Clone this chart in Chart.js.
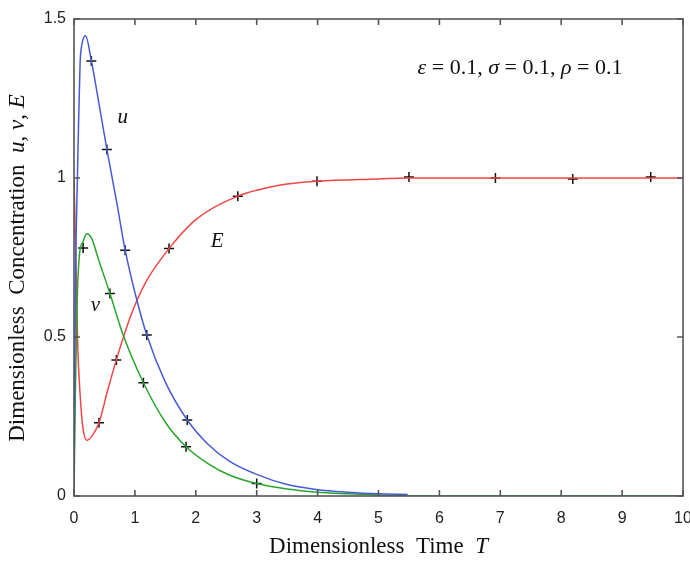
<!DOCTYPE html>
<html>
<head>
<meta charset="utf-8">
<style>
  html, body { margin: 0; padding: 0; background: #fff; }
  #wrap { width: 690px; height: 562px; }
</style>
<script src="https://cdn.jsdelivr.net/npm/chart.js@4.4.1/dist/chart.umd.min.js"></script>
</head>
<body>
<div id="wrap"><canvas id="concChart" width="690" height="562"></canvas></div>
<script>
// time points and values
var timeU = [0, 0.015, 0.03, 0.05, 0.07, 0.1, 0.13, 0.19, 0.285, 0.4, 0.54, 0.7, 0.84, 1.0, 1.195, 1.5, 1.86, 2.2, 2.55, 3.0, 3.5, 4.0, 4.5, 5.0, 5.48];
var valU = [0, 0.45, 0.75, 0.95, 1.13, 1.36, 1.42, 1.447, 1.368, 1.245, 1.09, 0.925, 0.773, 0.64, 0.506, 0.358, 0.239, 0.163, 0.11, 0.068, 0.036, 0.02, 0.012, 0.007, 0.005];

var timeV = [0, 0.02, 0.05, 0.09, 0.15, 0.21, 0.29, 0.4, 0.59, 0.8, 1.14, 1.5, 1.84, 2.2, 2.55, 3.0, 3.5, 4.0, 4.5, 5.0, 5.5, 10];
var valV = [0, 0.3, 0.6, 0.76, 0.8, 0.825, 0.81, 0.745, 0.637, 0.51, 0.356, 0.232, 0.155, 0.102, 0.066, 0.039, 0.022, 0.012, 0.007, 0.003, 0, 0];

var timeE = [0, 0.03, 0.06, 0.1, 0.15, 0.21, 0.3, 0.41, 0.55, 0.696, 0.9, 1.04, 1.2, 1.56, 2.0, 2.69, 3.5, 3.99, 5.0, 5.5, 10];
var valE = [1.0, 0.75, 0.48, 0.32, 0.21, 0.175, 0.19, 0.23, 0.33, 0.428, 0.55, 0.618, 0.68, 0.778, 0.869, 0.943, 0.981, 0.99, 0.997, 1.0, 1.0];

// "+" markers sitting on the curves
var markT = [0.285, 0.54, 0.84, 1.195, 1.86, 0.15, 0.59, 1.14, 1.84, 3.0, 0.41, 0.696, 1.56, 2.69, 3.99, 5.5, 6.92, 8.19, 9.47];
var markVal = [1.368, 1.09, 0.773, 0.506, 0.239, 0.78, 0.637, 0.356, 0.155, 0.039, 0.23, 0.428, 0.778, 0.943, 0.99, 1.003, 1.0, 0.997, 1.003];

var xTicks = [0, 1, 2, 3, 4, 5, 6, 7, 8, 9, 10];
var yTicks = [0, 0.5, 1, 1.5];

function pts(xs, ys) {
  return xs.map(function (x, i) { return { x: x, y: ys[i] }; });
}

var serif = "'Liberation Serif', 'DejaVu Serif', serif";

function mixed(ctx, parts, cx, cy) {
  var total = 0;
  parts.forEach(function (p) { ctx.font = p[1]; total += ctx.measureText(p[0]).width; });
  var x = cx - total / 2;
  ctx.textAlign = "left";
  ctx.textBaseline = "middle";
  parts.forEach(function (p) {
    ctx.font = p[1];
    ctx.fillText(p[0], x, cy);
    x += ctx.measureText(p[0]).width;
  });
}

// box around the plot, inward ticks, curve labels and axis titles
var frame = {
  id: "frame",
  afterDatasetsDraw: function (chart) {
    var ctx = chart.ctx, a = chart.chartArea;
    var xs = chart.scales.x, ys = chart.scales.y;
    ctx.save();
    ctx.strokeStyle = "#555";
    ctx.lineWidth = 1.6;
    ctx.strokeRect(a.left, a.top, a.right - a.left, a.bottom - a.top);
    ctx.beginPath();
    xTicks.forEach(function (t) {
      var px = xs.getPixelForValue(t);
      ctx.moveTo(px, a.bottom); ctx.lineTo(px, a.bottom - 6);
      ctx.moveTo(px, a.top); ctx.lineTo(px, a.top + 6);
    });
    yTicks.forEach(function (t) {
      var py = ys.getPixelForValue(t);
      ctx.moveTo(a.left, py); ctx.lineTo(a.left + 6, py);
      ctx.moveTo(a.right, py); ctx.lineTo(a.right - 6, py);
    });
    ctx.stroke();

    ctx.fillStyle = "#111";
    var it = "italic 21px " + serif;
    mixed(ctx, [["u", it]], xs.getPixelForValue(0.8), ys.getPixelForValue(1.19));
    mixed(ctx, [["v", it]], xs.getPixelForValue(0.35), ys.getPixelForValue(0.6));
    mixed(ctx, [["E", it]], xs.getPixelForValue(2.35), ys.getPixelForValue(0.8));
    var it2 = "italic 22px " + serif, up2 = "22px " + serif;
    mixed(ctx, [["ε", it2], [" = 0.1, ", up2], ["σ", it2], [" = 0.1, ", up2], ["ρ", it2], [" = 0.1", up2]],
      520, 68);

    var it3 = "italic 23px " + serif, up3 = "23px " + serif;
    mixed(ctx, [["Dimensionless  Time  ", up3], ["T", it3]], (a.left + a.right) / 2, 547);

    ctx.translate(18, 268);
    ctx.rotate(-Math.PI / 2);
    mixed(ctx, [["Dimensionless  Concentration  ", up3], ["u", it3], [", ", up3], ["v", it3], [", ", up3], ["E", it3]], 0, 0);
    ctx.restore();
  }
};

var ctx = document.getElementById("concChart").getContext("2d");

var lineStyle = { showLine: true, pointRadius: 0, borderWidth: 1.5, cubicInterpolationMode: "monotone", fill: false };

var chart = new Chart(ctx, {
  type: "scatter",
  data: {
    datasets: [
      Object.assign({ label: "u", data: pts(timeU, valU), borderColor: "rgb(70, 90, 215)" }, lineStyle),
      Object.assign({ label: "v", data: pts(timeV, valV), borderColor: "rgb(40, 165, 45)" }, lineStyle),
      Object.assign({ label: "E", data: pts(timeE, valE), borderColor: "rgb(240, 70, 70)" }, lineStyle),
      {
        label: "markers",
        data: pts(markT, markVal),
        showLine: false,
        pointStyle: "cross",
        pointRadius: 5,
        pointBorderWidth: 1.5,
        borderColor: "#111",
        backgroundColor: "#111",
      },
    ],
  },
  options: {
    responsive: false,
    animation: false,
    layout: { padding: { top: 19, right: 7, left: 0, bottom: 0 } },
    plugins: { legend: { display: false }, tooltip: { enabled: false } },
    scales: {
      x: {
        type: "linear",
        min: 0,
        max: 10,
        grid: { display: false },
        border: { display: false },
        ticks: {
          stepSize: 1,
          padding: 5,
          color: "#222",
          font: { family: "'Liberation Sans', Arial, sans-serif", size: 16 },
        },
        afterFit: function (s) { s.height = 66; s.paddingLeft = 0; s.paddingRight = 0; },
      },
      y: {
        min: 0,
        max: 1.5,
        grid: { display: false },
        border: { display: false },
        ticks: {
          stepSize: 0.5,
          padding: 0,
          color: "#222",
          font: { family: "'Liberation Sans', Arial, sans-serif", size: 16 },
          callback: function (value) { return String(value); },
        },
        afterFit: function (s) { s.width = 74; },
      },
    },
  },
  plugins: [frame],
});
</script>
</body>
</html>
